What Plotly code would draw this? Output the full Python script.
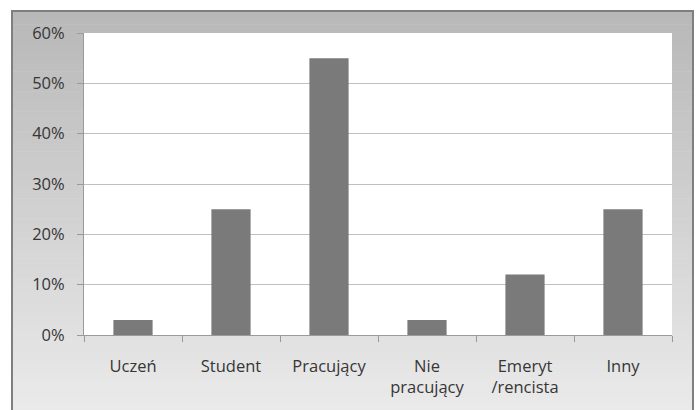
import plotly.graph_objects as go

# Respondent status categories and their shares
categories = ["Uczeń", "Student", "Pracujący", "Nie<br>pracujący", "Emeryt<br>/rencista", "Inny"]
shares = [0.03, 0.25, 0.55, 0.03, 0.12, 0.25]
y_ticks = [0, 0.1, 0.2, 0.3, 0.4, 0.5, 0.6]
y_tick_labels = ["0%", "10%", "20%", "30%", "40%", "50%", "60%"]

W, H = 696, 410
ML, MR, MT, MB = 84, 24, 33, 75
PW, PH = W - ML - MR, H - MT - MB


def px_x(px):
    return (px - ML) / PW


def px_y(py):
    return (H - MB - py) / PH


fig = go.Figure(
    go.Bar(
        x=categories,
        y=shares,
        marker=dict(color="#7a7a7a", line=dict(width=0)),
        width=0.4,
    )
)

# Chart frame: vertical grey gradient built from thin bands
shapes = []
top, bottom = 11, 412
left, right = 12, 693
n = 60
c0, c1 = 184, 234
for i in range(n):
    y0 = top + (bottom - top) * i / n
    y1 = top + (bottom - top) * (i + 1) / n + 0.5
    c = round(c0 + (c1 - c0) * i / (n - 1))
    shapes.append(dict(
        type="rect", xref="paper", yref="paper", layer="below",
        x0=px_x(left), x1=px_x(right), y0=px_y(y0), y1=px_y(y1),
        fillcolor=f"rgb({c},{c},{c})", line=dict(width=0),
    ))
# white plotting area
shapes.append(dict(
    type="rect", xref="paper", yref="paper", layer="below",
    x0=0, x1=1, y0=0, y1=1, fillcolor="white", line=dict(width=0),
))
# frame border
shapes.append(dict(
    type="rect", xref="paper", yref="paper", layer="below",
    x0=px_x(left), x1=px_x(right), y0=px_y(top), y1=px_y(bottom),
    fillcolor="rgba(0,0,0,0)", line=dict(color="#7f7f7f", width=2),
))

fig.update_layout(
    width=W, height=H,
    margin=dict(l=ML, r=MR, t=MT, b=MB),
    paper_bgcolor="white",
    plot_bgcolor="white",
    showlegend=False,
    font=dict(family="Open Sans, sans-serif", size=16.5, color="#363636"),
    shapes=shapes,
    bargap=0.6,
)
fig.update_yaxes(
    range=[0, 0.6],
    tickvals=y_ticks, ticktext=y_tick_labels,
    showgrid=True, gridcolor="#bfbfbf", gridwidth=1,
    showline=True, linecolor="#9a9a9a", linewidth=1,
    ticks="outside", ticklen=6, tickcolor="#9a9a9a",
    ticklabelstandoff=9,
    zeroline=False, fixedrange=True,
)
fig.update_xaxes(
    type="category",
    showgrid=False,
    showline=True, linecolor="#9a9a9a", linewidth=1,
    ticks="outside", ticklen=6, tickcolor="#9a9a9a",
    tickson="boundaries",
    ticklabelstandoff=16,
    fixedrange=True,
)

fig.write_html("out.html")
